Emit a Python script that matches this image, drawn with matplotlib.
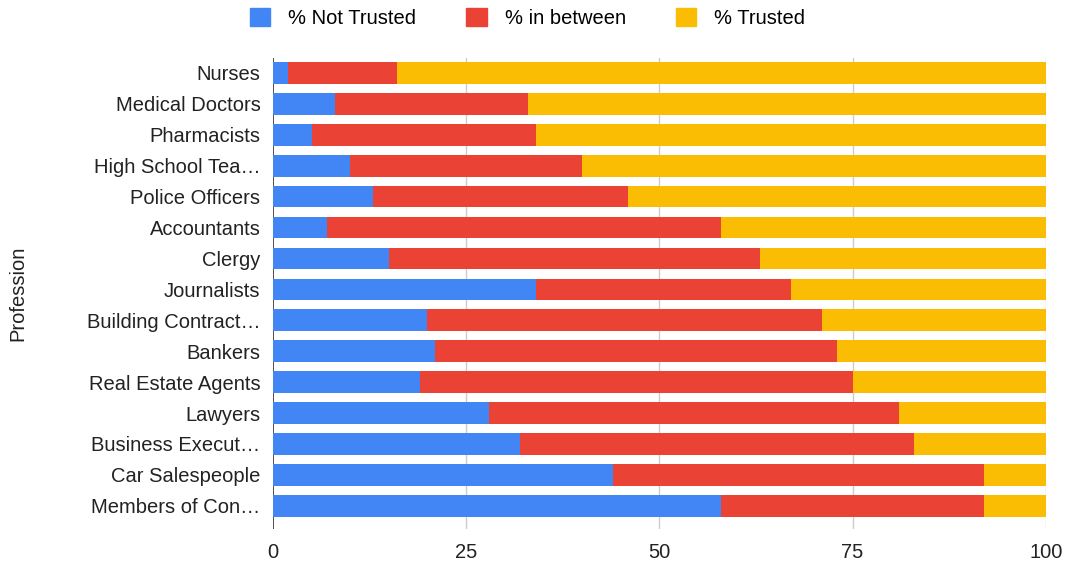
import numpy as np
import matplotlib
matplotlib.use('Agg')
import matplotlib.pyplot as plt
import matplotlib.patches as mpatches

# ── Data ────────────────────────────────────────────────────────────────────
professions = ['Nurses', 'Medical Doctors', 'Pharmacists', 'High School Tea…',
               'Police Officers', 'Accountants', 'Clergy', 'Journalists',
               'Building Contract…', 'Bankers', 'Real Estate Agents', 'Lawyers',
               'Business Execut…', 'Car Salespeople', 'Members of Con…']
not_trusted = [2, 8, 5, 10, 13, 7, 15, 34, 20, 21, 19, 28, 32, 44, 58]
in_between  = [14, 25, 29, 30, 33, 51, 48, 33, 51, 52, 56, 53, 51, 48, 34]
trusted     = [84, 67, 66, 60, 54, 42, 37, 33, 29, 27, 25, 19, 17, 8, 8]

series_names = ['% Not Trusted', '% in between', '% Trusted']
COLORS = ['#4285F4', '#EA4335', '#FBBC04']

plt.rcParams['font.family'] = ['Liberation Sans', 'DejaVu Sans']
FS = 14.5
TXT = '#222222'

fig = plt.figure(figsize=(10.66, 5.61), dpi=100)
ax = fig.add_axes([0.256, 0.057, 0.725, 0.8405])

y = np.arange(len(professions))
left = np.zeros(len(professions))
for vals, color in zip([not_trusted, in_between, trusted], COLORS):
    vals = np.array(vals, dtype=float)
    ax.barh(y, vals, left=left, color=color, height=0.7, edgecolor='none', zorder=3)
    left += vals

ax.set_ylim(len(professions) - 0.5 + 0.25, -0.5)
ax.set_xlim(0, 100)
ax.set_yticks(y)
ax.set_yticklabels(professions, fontsize=FS, color=TXT)
ax.set_xticks([0, 25, 50, 75, 100])
ax.set_xticklabels(['0', '25', '50', '75', '100'], fontsize=FS, color=TXT)
ax.tick_params(axis='y', length=0, pad=9)
ax.tick_params(axis='x', length=0, pad=10)

for s in ax.spines.values():
    s.set_visible(False)
for xv in [25, 50, 75, 100]:
    ax.axvline(xv, color='#cccccc', linewidth=1, zorder=1)
ax.axvline(0, color='#333333', linewidth=1.2, zorder=2)

ax.set_ylabel('Profession', fontsize=FS, color=TXT)
ax.yaxis.set_label_coords(-0.318, 0.5)

handles = [mpatches.Patch(color=c, label=n) for c, n in zip(COLORS, series_names)]
fig.legend(handles=handles, loc='upper center', bbox_to_anchor=(0.495, 1.018),
           ncol=3, frameon=False, fontsize=FS, handlelength=1.0, handleheight=1.0,
           columnspacing=2.5, handletextpad=0.9)

fig.savefig('out.png', dpi=100)
